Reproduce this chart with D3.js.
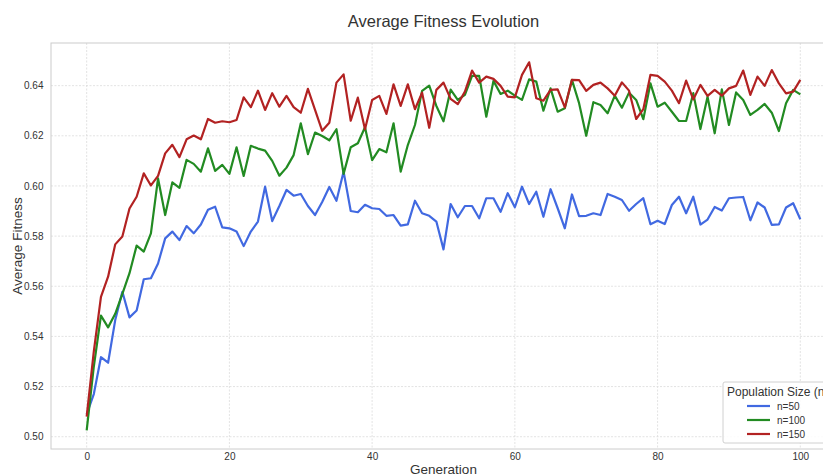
<!DOCTYPE html>
<html>
<head>
<meta charset="utf-8">
<script src="https://cdn.jsdelivr.net/npm/d3@7"></script>
<style>
  body { margin: 0; background: #fff; }
  svg { font-family: "Liberation Sans", Arial, sans-serif; }
</style>
</head>
<body>
<div id="chart"></div>
<script>
// generations 0..100
const generations = d3.range(0, 101);

const fitnessN50 = [
  0.509, 0.517, 0.5317, 0.5295, 0.5465, 0.5578, 0.5476, 0.5503, 0.5628, 0.5632,
  0.5691, 0.5791, 0.5818, 0.5784, 0.584, 0.5811, 0.5846, 0.5905, 0.5917, 0.5835,
  0.5831, 0.5818, 0.576, 0.5818, 0.5858, 0.5997, 0.586, 0.592, 0.5984, 0.5961,
  0.5968, 0.592, 0.5884, 0.5936, 0.5996, 0.5941, 0.6057, 0.59, 0.5895, 0.5925,
  0.5911, 0.5908, 0.5881, 0.5884, 0.5842, 0.5847, 0.5941, 0.5891, 0.5881, 0.5858,
  0.5747, 0.5928, 0.5875, 0.592, 0.592, 0.5871, 0.5951, 0.5951, 0.5897, 0.5971,
  0.5915, 0.5997, 0.5928, 0.5977, 0.5877, 0.5987, 0.5911, 0.5831, 0.5966, 0.588,
  0.5881, 0.5891, 0.5884, 0.5968, 0.5957, 0.5944, 0.5901, 0.5928, 0.5951, 0.5847,
  0.5861, 0.5848, 0.5924, 0.5957, 0.5891, 0.5957, 0.5846, 0.5866, 0.5916, 0.5902,
  0.5951, 0.5954, 0.5956, 0.5863, 0.5934, 0.5914, 0.5845, 0.5847, 0.5914, 0.5931,
  0.5867
];

const fitnessN100 = [
  0.5025, 0.528, 0.5483, 0.5436, 0.549, 0.557, 0.5652, 0.5762, 0.5738, 0.5811,
  0.603, 0.5884, 0.6014, 0.5992, 0.6104, 0.6088, 0.6057, 0.615, 0.606, 0.6084,
  0.6048, 0.6154, 0.604, 0.616, 0.6149, 0.6141, 0.61, 0.6041, 0.6073, 0.6123,
  0.625, 0.6127, 0.6213, 0.6199, 0.6182, 0.6226, 0.6048, 0.6154, 0.617, 0.6234,
  0.6103, 0.6147, 0.6134, 0.625, 0.6057, 0.6163, 0.6243, 0.6379, 0.64, 0.6319,
  0.6258, 0.6384, 0.6343, 0.6363, 0.6439, 0.6439, 0.6276, 0.6419, 0.6367, 0.638,
  0.636, 0.6343, 0.6425, 0.6416, 0.63, 0.6389, 0.6296, 0.631, 0.6423, 0.633,
  0.62, 0.6334, 0.6323, 0.629, 0.636, 0.6312, 0.6372, 0.6343, 0.6266, 0.6409,
  0.6316, 0.6332, 0.6296, 0.6259, 0.6259, 0.637, 0.6227, 0.6356, 0.621, 0.6385,
  0.6243, 0.6373, 0.6343, 0.6283, 0.6303, 0.6327, 0.6292, 0.6219, 0.633, 0.6383,
  0.6365
];

const fitnessN150 = [
  0.508, 0.534, 0.5558, 0.5638, 0.5767, 0.5798, 0.591, 0.5957, 0.605, 0.6002,
  0.604, 0.613, 0.6164, 0.6115, 0.6186, 0.6201, 0.6186, 0.6267, 0.6252, 0.6258,
  0.6254, 0.6263, 0.6353, 0.6314, 0.638, 0.6303, 0.637, 0.6316, 0.6359, 0.6314,
  0.6292, 0.6387, 0.6303, 0.622, 0.6252, 0.6412, 0.6445, 0.626, 0.6352, 0.6226,
  0.6343, 0.6359, 0.6287, 0.6405, 0.6319, 0.6405, 0.6306, 0.6372, 0.6232, 0.6383,
  0.6412, 0.6347, 0.6326, 0.6376, 0.646, 0.6412, 0.6436, 0.6427, 0.6399, 0.6356,
  0.6353, 0.6443, 0.6493, 0.635, 0.634, 0.6383, 0.6385, 0.6313, 0.6423, 0.6422,
  0.6379, 0.6403, 0.6412, 0.6389, 0.636, 0.6413, 0.638, 0.6267, 0.6306, 0.6443,
  0.6439, 0.6416, 0.638, 0.633, 0.642, 0.6345, 0.6403, 0.6359, 0.6383, 0.636,
  0.6389, 0.6399, 0.646, 0.6363, 0.6436, 0.6399, 0.6462, 0.6409, 0.6369, 0.6376,
  0.6423
];

const seriesNames = ["n=50", "n=100", "n=150"];
const seriesColors = ["#4169e1", "#228b22", "#b22222"];
const xTicks = [0, 20, 40, 60, 80, 100];
const yTicks = [0.50, 0.52, 0.54, 0.56, 0.58, 0.60, 0.62, 0.64];

const W = 823, H = 475;
const margin = { top: 43, left: 51, bottom: 26 };
const plotRight = 836;   // axes extends past the window edge
const textColor = '#333';

const series = [fitnessN50, fitnessN100, fitnessN150].map((vals, i) => ({
  name: seriesNames[i],
  color: seriesColors[i],
  values: vals.map((v, j) => ({ g: generations[j], v: v }))
}));

const x = d3.scaleLinear().domain([-5, 105]).range([margin.left, plotRight]);
const y = d3.scaleLinear().domain([0.4951, 0.657]).range([H - margin.bottom, margin.top]);

const svg = d3.select('#chart').append('svg')
  .attr('width', W)
  .attr('height', H);

svg.append('rect')
  .attr('width', W).attr('height', H).attr('fill', '#fff');

// grid
svg.append('g')
  .selectAll('line')
  .data(yTicks)
  .join('line')
  .attr('x1', margin.left).attr('x2', plotRight)
  .attr('y1', d => y(d)).attr('y2', d => y(d))
  .attr('stroke', '#dcdcdc')
  .attr('stroke-width', 0.8)
  .attr('stroke-dasharray', '2,1.5');

svg.append('g')
  .selectAll('line')
  .data(xTicks)
  .join('line')
  .attr('y1', margin.top).attr('y2', H - margin.bottom)
  .attr('x1', d => x(d)).attr('x2', d => x(d))
  .attr('stroke', '#dcdcdc')
  .attr('stroke-width', 0.8)
  .attr('stroke-dasharray', '2,1.5');

// frame
svg.append('rect')
  .attr('x', margin.left).attr('y', margin.top)
  .attr('width', plotRight - margin.left)
  .attr('height', H - margin.bottom - margin.top)
  .attr('fill', 'none')
  .attr('stroke', '#cccccc')
  .attr('stroke-width', 1);

// axes (tick labels only, no tick marks)
const xAxis = svg.append('g')
  .attr('transform', 'translate(0,' + (H - margin.bottom) + ')')
  .call(d3.axisBottom(x).tickValues(xTicks).tickSize(0).tickPadding(4).tickFormat(d3.format('d')));
const yAxis = svg.append('g')
  .attr('transform', 'translate(' + margin.left + ',0)')
  .call(d3.axisLeft(y).tickValues(yTicks).tickSize(0).tickPadding(7.5).tickFormat(d3.format('.2f')));

[xAxis, yAxis].forEach(a => {
  a.select('.domain').remove();
  a.selectAll('text').attr('fill', textColor).style('font-size', '10px');
});

// lines
const line = d3.line()
  .x(d => x(d.g))
  .y(d => y(d.v));

svg.append('g')
  .selectAll('path')
  .data(series)
  .join('path')
  .attr('d', d => line(d.values))
  .attr('fill', 'none')
  .attr('stroke', d => d.color)
  .attr('stroke-width', 2.2)
  .attr('stroke-linejoin', 'round');

// titles
svg.append('text')
  .attr('x', (margin.left + plotRight) / 2)
  .attr('y', 27)
  .attr('text-anchor', 'middle')
  .attr('fill', textColor)
  .style('font-size', '16.5px')
  .text('Average Fitness Evolution');

svg.append('text')
  .attr('x', (margin.left + plotRight) / 2)
  .attr('y', 474)
  .attr('text-anchor', 'middle')
  .attr('fill', textColor)
  .style('font-size', '13.5px')
  .text('Generation');

svg.append('text')
  .attr('transform', 'translate(22,' + ((margin.top + H - margin.bottom) / 2) + ') rotate(-90)')
  .attr('text-anchor', 'middle')
  .attr('fill', textColor)
  .style('font-size', '13.5px')
  .text('Average Fitness');

// legend
const legend = svg.append('g').attr('transform', 'translate(723,382)');
legend.append('rect')
  .attr('width', 120).attr('height', 61)
  .attr('rx', 2)
  .attr('fill', '#fff')
  .attr('fill-opacity', 0.85)
  .attr('stroke', '#d0d0d0');
legend.append('text')
  .attr('x', 4).attr('y', 13.5)
  .attr('fill', textColor)
  .style('font-size', '12px')
  .text('Population Size (n)');
const rows = legend.selectAll('.row')
  .data(series)
  .join('g')
  .attr('class', 'row')
  .attr('transform', (d, i) => 'translate(0,' + (24 + i * 14) + ')');
rows.append('line')
  .attr('x1', 24).attr('x2', 47)
  .attr('stroke', d => d.color)
  .attr('stroke-width', 2.2);
rows.append('text')
  .attr('x', 54).attr('y', 3.5)
  .attr('fill', textColor)
  .style('font-size', '10px')
  .text(d => d.name);
</script>
</body>
</html>
